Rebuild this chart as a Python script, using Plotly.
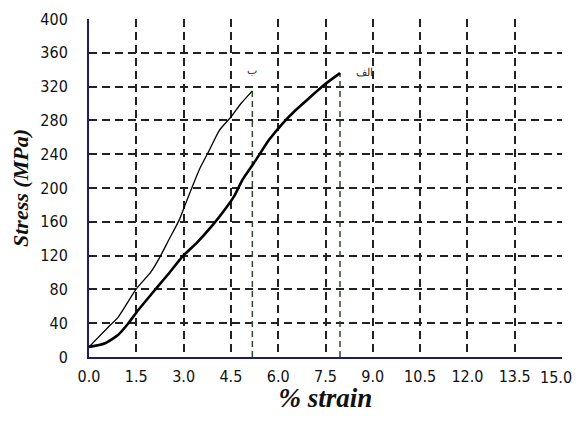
import plotly.graph_objects as go

# Curve "الف" (thick)
strain_a = [0.0, 0.49, 0.92, 1.23, 1.55, 1.97, 2.49, 2.97, 3.44, 3.92, 4.28, 4.6, 4.87, 5.29, 5.71, 6.13, 6.55, 6.97, 7.49, 7.96]
stress_a = [12, 16, 26, 39, 55, 74, 97, 119, 136, 156, 173, 190, 210, 233, 257, 276, 292, 306, 323, 336]
# Curve "ب" (thin)
strain_b = [0.0, 0.6, 0.92, 1.49, 1.97, 2.23, 2.55, 2.86, 3.1, 3.5, 3.82, 4.13, 4.5, 4.82, 5.18]
stress_b = [12, 35, 47, 80, 101, 117, 140, 162, 185, 222, 245, 268, 284, 300, 315]

x_ticks = [0.0, 1.5, 3.0, 4.5, 6.0, 7.5, 9.0, 10.5, 12.0, 13.5, 15.0]
x_tick_labels = ["0.0", "1.5", "3.0", "4.5", "6.0", "7.5", "9.0", "10.5", "12.0", "13.5", "15.0"]
y_ticks = [0, 40, 80, 120, 160, 200, 240, 280, 320, 360, 400]

label_a = "الف"
label_b = "ب"

fig = go.Figure()

# drop lines at curve ends
fig.add_trace(go.Scatter(x=[strain_b[-1], strain_b[-1]], y=[0, stress_b[-1]], mode="lines",
                         line=dict(color="#2d4a2d", width=1.5, dash="6px,4px"), showlegend=False, hoverinfo="skip"))
fig.add_trace(go.Scatter(x=[strain_a[-1], strain_a[-1]], y=[0, stress_a[-1]], mode="lines",
                         line=dict(color="#2d4a2d", width=1.5, dash="6px,4px"), showlegend=False, hoverinfo="skip"))

fig.add_trace(go.Scatter(x=strain_b, y=stress_b, mode="lines", line=dict(color="black", width=1.3, shape="spline", smoothing=0.6),
                         showlegend=False))
fig.add_trace(go.Scatter(x=strain_a, y=stress_a, mode="lines", line=dict(color="black", width=2.6, shape="spline", smoothing=0.6),
                         showlegend=False))

fig.add_annotation(x=strain_b[-1], y=stress_b[-1] + 14, text=label_b, showarrow=False,
                   xanchor="center", yanchor="bottom", font=dict(family="Noto Sans", size=11, color="#333"))
fig.add_annotation(x=strain_a[-1] + 0.45, y=stress_a[-1] + 2, text=label_a, showarrow=False,
                   xanchor="left", yanchor="middle", font=dict(family="Noto Sans", size=11, color="#333"))

tick_font = dict(family="DejaVu Sans Condensed, Liberation Sans Narrow, Arial Narrow, sans-serif", size=16, color="#111")

# last x tick label is drawn as an annotation, nudged left so it stays inside the page
fig.add_annotation(x=x_ticks[-1], y=0, xref="x", yref="paper", text=x_tick_labels[-1], showarrow=False,
                   xanchor="right", yanchor="top", xshift=12, yshift=-9, font=tick_font)

fig.update_xaxes(range=[0, 15], tickvals=x_ticks, ticktext=x_tick_labels[:-1] + [""],
                 showgrid=True, gridcolor="#222", griddash="8px,5px", gridwidth=1.5,
                 showline=True, linecolor="#1c1c6b", linewidth=2, zeroline=False,
                 ticks="", tickfont=tick_font, automargin=False, ticklabelstandoff=4,
                 title=dict(text="<b><i>% strain</i></b>", standoff=6,
                            font=dict(family="Liberation Serif, Times New Roman, serif", size=27, color="#111")))
fig.update_yaxes(range=[0, 400], tickvals=y_ticks,
                 showgrid=True, gridcolor="#222", griddash="8px,5px", gridwidth=1.5,
                 showline=True, linecolor="#1c1c6b", linewidth=2, zeroline=False,
                 ticks="", tickfont=tick_font, automargin=False, ticklabelstandoff=16,
                 title=dict(text="<b><i>Stress (MPa)</i></b>", standoff=6,
                            font=dict(family="Liberation Serif, Times New Roman, serif", size=22, color="#111")))

# page body has an 8px default margin, so the figure is offset by 8px
fig.update_layout(width=573, height=405, margin=dict(l=81, r=19, t=11, b=56),
                  plot_bgcolor="white", paper_bgcolor="white")

fig.write_html("out.html")
